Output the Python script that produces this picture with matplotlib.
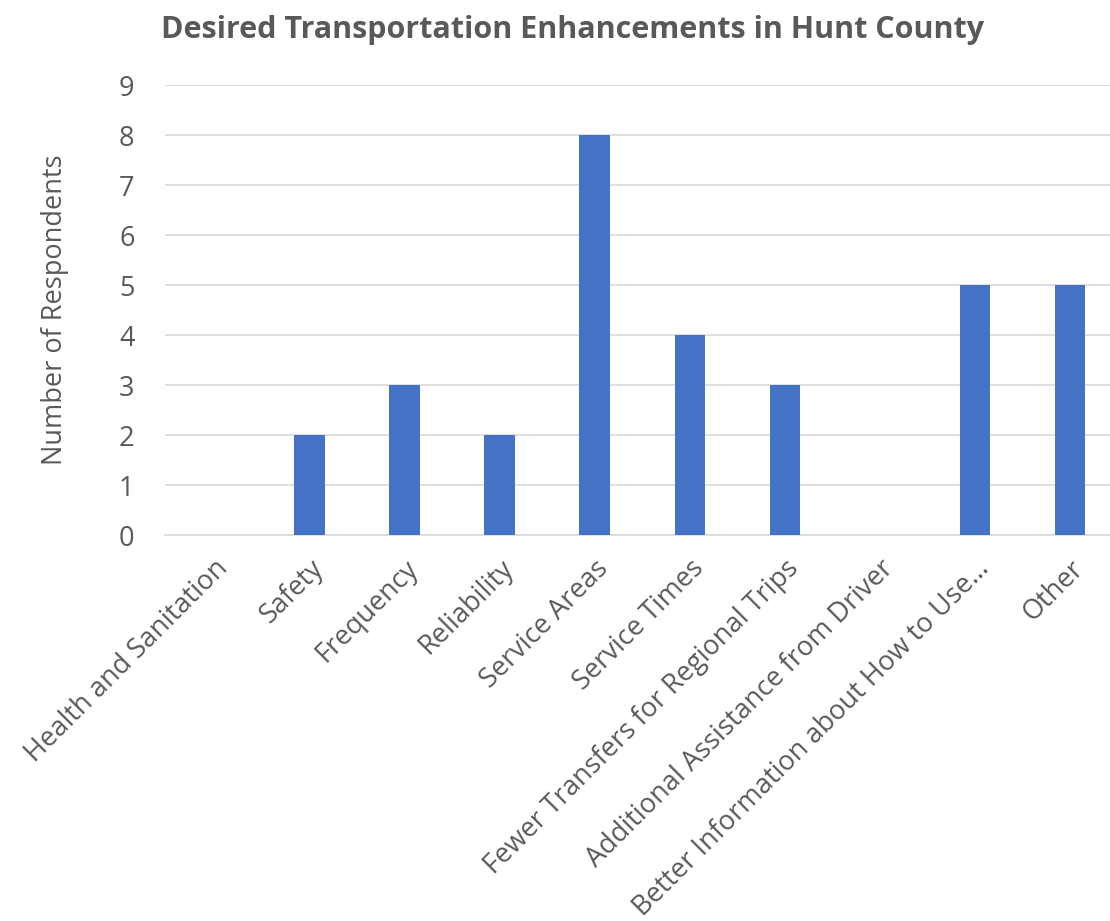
import matplotlib.pyplot as plt
import numpy as np

categories = [
    "Health and Sanitation", "Safety", "Frequency", "Reliability",
    "Service Areas", "Service Times", "Fewer Transfers for Regional Trips",
    "Additional Assistance from Driver", "Better Information about How to Use…",
    "Other",
]
respondents = [0, 2, 3, 2, 8, 4, 3, 0, 5, 5]
y_ticks = list(range(0, 10))

TEXT = "#595959"
plt.rcParams["font.family"] = ["Open Sans", "DejaVu Sans"]

fig = plt.figure(figsize=(11.1, 9.21), dpi=100)
ax = fig.add_axes([0.1486, 0.419, 0.8514, 0.4887])

x = np.arange(len(categories))
ax.bar(x, respondents, width=0.32, color="#4472C4", zorder=3)

ax.set_xlim(-0.52, 9.42)
ax.set_ylim(0, 9)
ax.set_yticks(y_ticks)
ax.set_yticklabels([str(v) for v in y_ticks], fontsize=19.5, color=TEXT)
ax.grid(axis="y", color="#d9d9d9", linewidth=1.2, zorder=0)
ax.set_xticks(x)
ax.set_xticklabels(categories, rotation=45, ha="right", rotation_mode="anchor",
                   fontsize=19.5, color=TEXT)
ax.tick_params(axis="y", length=0, pad=22)
ax.tick_params(axis="x", length=0, pad=14)
for s in ["top", "right", "left"]:
    ax.spines[s].set_visible(False)
ax.spines["bottom"].set_color("#d9d9d9")
ax.spines["bottom"].set_linewidth(1.2)

ax.set_ylabel("Number of Respondents", fontsize=19.5, color=TEXT, labelpad=36)
fig.text(0.516, 0.967, "Desired Transportation Enhancements in Hunt County",
         ha="center", va="center", fontsize=22, fontweight="bold", color=TEXT)

plt.savefig("out.png", dpi=100)
